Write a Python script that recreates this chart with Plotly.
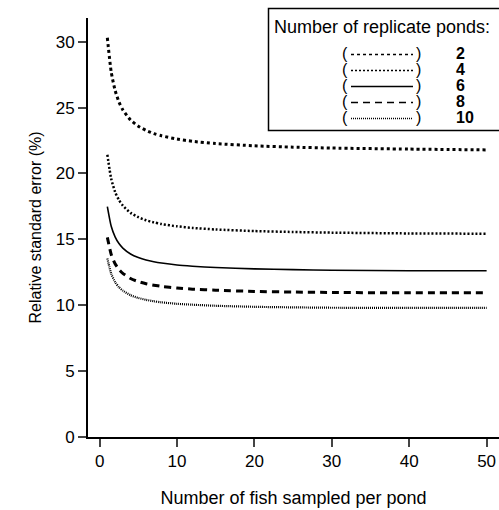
import plotly.graph_objects as go

# Number of fish sampled per pond (x) and relative standard error (%)
fish = [1, 1.5, 2, 2.5, 3, 4, 5, 6, 7, 8, 10, 12, 15, 20, 25, 30, 40, 50]
rse_2 = [30.30, 27.70, 26.31, 25.43, 24.83, 24.06, 23.59, 23.27, 23.03, 22.86, 22.61, 22.44, 22.27, 22.10, 22.00, 21.93, 21.85, 21.79]
rse_4 = [21.42, 19.59, 18.60, 17.98, 17.56, 17.01, 16.68, 16.45, 16.29, 16.16, 15.99, 15.87, 15.75, 15.63, 15.56, 15.51, 15.45, 15.43]
rse_6 = [17.49, 15.99, 15.19, 14.68, 14.34, 13.89, 13.62, 13.43, 13.30, 13.20, 13.05, 12.96, 12.86, 12.76, 12.70, 12.66, 12.62, 12.62]
rse_8 = [15.15, 13.85, 13.15, 12.72, 12.42, 12.03, 11.79, 11.63, 11.52, 11.43, 11.31, 11.22, 11.14, 11.05, 11.00, 10.97, 10.94, 10.94]
rse_10 = [13.55, 12.39, 11.76, 11.37, 11.11, 10.76, 10.55, 10.41, 10.30, 10.22, 10.11, 10.04, 9.96, 9.88, 9.84, 9.81, 9.80, 9.80]

ponds = ["2", "4", "6", "8", "10"]
series = [rse_2, rse_4, rse_6, rse_8, rse_10]
styles = [
    dict(width=3, dash="3px,3px"),
    dict(width=2.5, dash="2px,2px"),
    dict(width=1.6, dash="solid"),
    dict(width=3, dash="7px,5px"),
    dict(width=2.2, dash="1px,1px"),
]
x_ticks = [0, 10, 20, 30, 40, 50]
y_ticks = [0, 5, 10, 15, 20, 25, 30]

FONT = "Liberation Sans, Arial, sans-serif"

FIG_W, FIG_H = 499, 510
L, T, H = 88, 18, 419
W = FIG_W - L

fig = go.Figure()
for p, ys, st in zip(ponds, series, styles):
    fig.add_trace(go.Scatter(x=fish, y=ys, mode="lines", name=p,
                             line=dict(color="black", shape="spline", smoothing=0.6, **st),
                             showlegend=False))

# pixel -> paper helpers for the hand-drawn legend box
def px(x):
    return (x - L) / W
def py(y):
    return (T + H - y) / H

shapes = [dict(type="rect", xref="paper", yref="paper",
               x0=px(268.5), x1=px(501), y0=py(130.5), y1=py(8.5),
               line=dict(color="black", width=1.5), fillcolor="white", layer="above")]
annotations = [dict(xref="paper", yref="paper", x=px(272), y=py(27), text="Number of replicate ponds:",
                    showarrow=False, xanchor="left", yanchor="middle",
                    font=dict(family=FONT, size=18, color="black"))]
row_y = [53.5, 69.5, 85.5, 101.5, 117.5]
for p, st, ry in zip(ponds, styles, row_y):
    shapes.append(dict(type="line", xref="paper", yref="paper",
                       x0=px(351), x1=px(413), y0=py(ry + 1), y1=py(ry + 1),
                       line=dict(color="black", width=min(st["width"], 1.5), dash=st["dash"]),
                       layer="above"))
    annotations.append(dict(xref="paper", yref="paper", x=px(350), y=py(ry), text="(",
                            showarrow=False, xanchor="right", yanchor="middle",
                            font=dict(family=FONT, size=16, color="black")))
    annotations.append(dict(xref="paper", yref="paper", x=px(414), y=py(ry), text=")",
                            showarrow=False, xanchor="left", yanchor="middle",
                            font=dict(family=FONT, size=16, color="black")))
    annotations.append(dict(xref="paper", yref="paper", x=px(454), y=py(ry), text="<b>%s</b>" % p,
                            showarrow=False, xanchor="left", yanchor="middle",
                            font=dict(family=FONT, size=16, color="black")))

fig.update_layout(
    width=FIG_W, height=FIG_H,
    margin=dict(l=L, r=0, t=T, b=FIG_H - T - H),
    paper_bgcolor="white", plot_bgcolor="white",
    font=dict(family=FONT, size=17, color="black"),
    shapes=shapes, annotations=annotations,
    xaxis=dict(range=[-1.5, 51.6], tickvals=x_ticks, ticks="outside", ticklen=8, tickwidth=1.5,
               showline=True, linewidth=2, linecolor="black", showgrid=False, zeroline=False,
               tickfont=dict(size=17),
               title=dict(text="Number of fish sampled per pond", font=dict(size=18), standoff=21)),
    yaxis=dict(range=[0, 31.8], tickvals=y_ticks, ticks="outside", ticklen=8, tickwidth=1.5,
               showline=True, linewidth=2, linecolor="black", showgrid=False, zeroline=False,
               tickfont=dict(size=17),
               title=dict(text="Relative standard error (%)", font=dict(size=16), standoff=10)),
)

# remove the browser's default body margin so the 499x510 figure fills the window exactly
fig.write_html("out.html",
               config={"displayModeBar": False},
               post_script="document.body.style.margin='0';document.body.style.overflow='hidden';")
